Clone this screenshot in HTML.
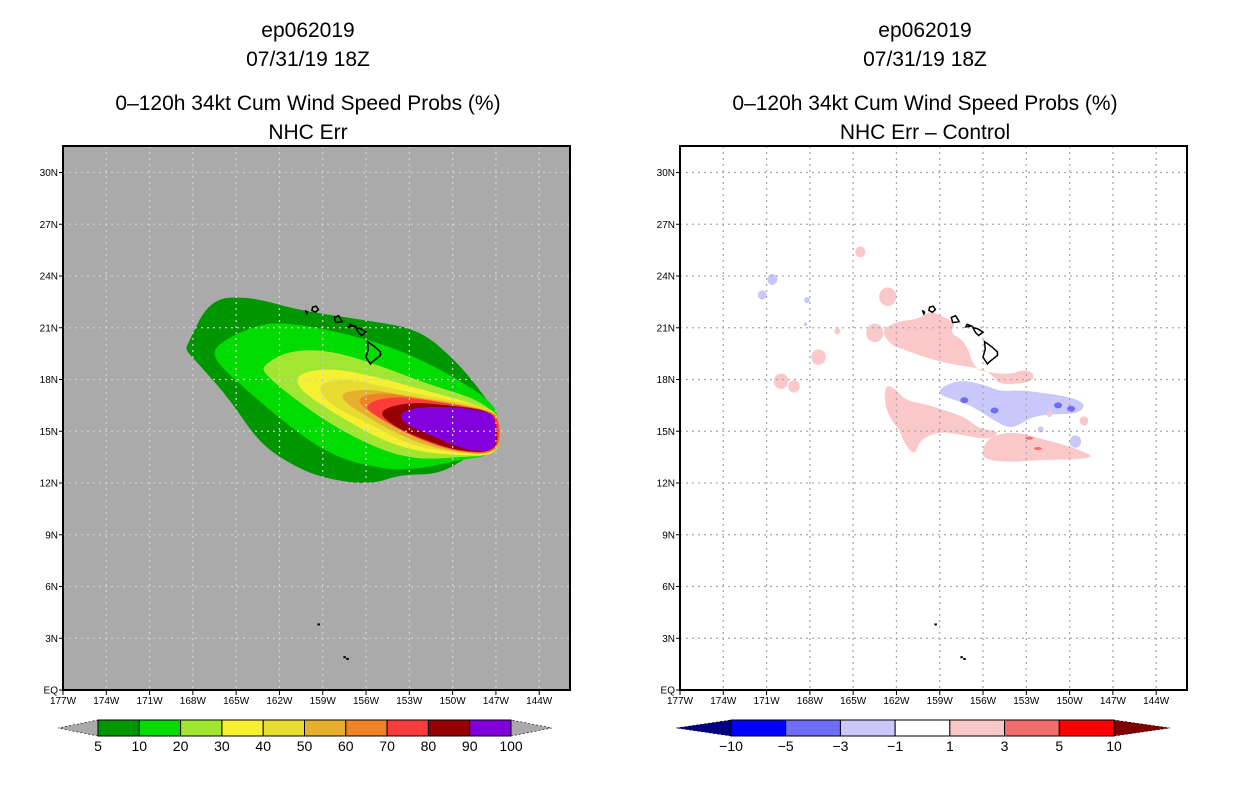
<!DOCTYPE html>
<html><head><meta charset="utf-8"><style>
body{margin:0;background:#fff;}
svg text{font-family:"Liberation Sans",sans-serif;}
</style></head><body>
<svg id="s" width="1236" height="800" xmlns="http://www.w3.org/2000/svg"></svg>
<script>
// ---- data (lon in degrees W, lat in degrees N) ----
const lonTicks=[177,174,171,168,165,162,159,156,153,150,147,144];
const latTicks=[0,3,6,9,12,15,18,21,24,27,30];
const probLevels=['5','10','20','30','40','50','60','70','80','90','100'];
const probColors=['#009600','#00dc00','#a0e632','#f5f032','#e6dc32','#e6af2d','#f08228','#fa3c3c','#960000','#8200dc'];
const diffLevels=['-10','-5','-3','-1','1','3','5','10'];
const diffColors=['#0000ff','#6e6ef5','#c8c8fa','#ffffff','#fac8c8','#f06e6e','#ff0000'];
const prob5=[[168.4,20.0],[166.8,22.7],[164.0,22.8],[160.6,22.0],[155.7,21.4],[152.3,20.9],[149.8,19.1],[148.1,17.4],[146.7,15.7],[147.4,13.9],[148.8,13.6],[150.9,12.5],[153.6,12.5],[155.7,11.9],[158.5,12.2],[160.6,12.8],[163.3,14.2],[165.4,16.8],[167.5,18.8],[168.5,19.7]];
const prob10=[[166.5,20.0],[163.3,21.3],[160.6,21.2],[157.1,20.6],[153.6,19.7],[150.2,18.3],[147.4,16.8],[146.7,15.7],[147.1,13.6],[149.5,13.35],[152.3,12.8],[155.0,12.8],[158.5,13.6],[161.96,15.7],[164.7,17.7],[166.5,19.1]];
const prob20=[[163.2,18.8],[161.3,19.7],[158.5,19.7],[155.0,18.8],[151.6,17.7],[148.1,16.8],[146.7,15.7],[147.1,13.6],[149.5,13.5],[152.3,13.35],[155.0,13.9],[158.5,15.4],[161.3,17.1],[163.0,18.3]];
const prob30=[[160.9,18.3],[158.5,18.7],[155.0,18.1],[151.6,17.3],[148.1,16.5],[146.7,15.7],[146.7,13.6],[149.5,13.6],[152.3,13.8],[155.0,14.5],[158.5,16.2],[160.6,17.4]];
const prob40=[[159.5,17.7],[157.5,18.1],[154.3,17.5],[150.9,16.9],[147.4,16.4],[146.7,15.7],[146.7,13.6],[150.2,13.76],[153.0,14.2],[155.7,15.4],[158.5,16.5]];
const prob50=[[158.2,17.1],[156.1,17.5],[153.6,17.1],[150.2,16.7],[147.4,16.2],[146.7,15.7],[146.7,13.6],[150.2,13.8],[153.0,14.5],[155.7,15.7]];
const prob60=[[157.1,16.8],[155.0,17.3],[152.3,16.9],[149.5,16.5],[147.4,16.2],[146.7,15.7],[146.7,13.6],[150.2,13.9],[153.6,15.1]];
const prob70=[[156.3,16.5],[154.3,17.05],[151.6,16.8],[147.4,16.2],[146.7,15.5],[146.9,13.76],[149.5,13.76],[152.3,14.5],[155.0,15.7]];
const prob80=[[155.2,16.2],[153.0,16.7],[150.2,16.5],[147.4,16.2],[146.9,15.4],[146.9,13.8],[149.5,13.8],[152.3,14.6],[154.3,15.4]];
const prob90=[[153.8,16.1],[151.6,16.5],[147.3,16.2],[147.0,15.4],[147.0,13.8],[149.1,13.9],[151.6,14.8],[153.3,15.4]];
const diffPinkN=[[163.1,20.9],[161.8,21.4],[160.4,21.5],[159.7,22.0],[158.4,21.5],[157.9,21.2],[158.3,20.7],[157.2,20.2],[156.6,18.6],[155.5,18.4],[154.1,18.3],[153.1,18.6],[152.4,18.3],[152.7,17.8],[154.8,17.7],[155.2,18.1],[155.9,18.6],[157.6,18.8],[159.3,19.1],[160.4,19.4],[161.4,19.7],[162.4,20.0]];
const diffBlue=[[159.0,17.5],[157.6,18.0],[155.9,17.7],[154.8,17.3],[153.4,17.4],[151.7,17.2],[150.7,17.1],[149.3,16.8],[148.9,16.4],[149.6,16.0],[151.4,16.0],[152.7,15.8],[153.4,15.4],[154.1,15.2],[154.8,15.4],[155.9,16.0],[156.9,16.5],[157.9,16.8],[159.0,17.1]];
const diffPinkS=[[162.8,17.7],[162.1,17.5],[161.4,16.8],[159.7,16.5],[158.6,16.2],[157.2,15.8],[156.2,15.1],[154.8,15.0],[155.5,14.5],[157.6,14.8],[159.0,15.0],[160.4,14.5],[160.7,13.6],[161.4,14.2],[161.8,15.1],[162.4,15.7],[162.8,16.5]];
const diffPinkSE=[[155.5,14.7],[153.8,15.0],[151.7,14.5],[150.3,14.2],[149.3,13.9],[148.2,13.5],[149.9,13.35],[152.0,13.35],[154.1,13.2],[155.9,13.35],[156.1,13.9]];
const blobsPink=[[170.0,17.9,0.5],[169.1,17.6,0.4],[167.4,19.3,0.5],[163.5,20.7,0.6],[162.6,22.8,0.6],[164.5,25.4,0.35],[166.1,20.8,0.2],[149.0,15.6,0.3],[151.4,16.0,0.2]];
const blobsBlue=[[170.6,23.8,0.35],[171.3,22.9,0.3],[168.2,22.6,0.2],[168.3,21.2,0.12],[149.6,14.4,0.4],[152.0,15.1,0.2]];
const islands=[
 [[155.9,20.2],[155.4,19.9],[155.0,19.6],[155.0,19.4],[155.6,19.0],[155.7,18.9],[156.0,19.3],[155.85,19.75]],
 [[156.7,21.0],[156.4,20.95],[156.0,20.75],[156.3,20.55],[156.5,20.7]],
 [[157.1,21.2],[156.8,21.1],[157.2,21.05]],
 [[158.2,21.6],[157.9,21.7],[157.65,21.35],[158.1,21.3]],
 [[159.7,22.2],[159.45,22.25],[159.3,22.05],[159.5,21.9],[159.75,22.0]],
 [[160.2,22.0],[160.05,21.9],[160.1,21.8]]
];
const atolls=[[159.3,3.8],[157.5,1.9],[157.3,1.8]];

// ---- drawing ----
const NS='http://www.w3.org/2000/svg';
const svg=document.getElementById('s');
function mk(t,a,p){const e=document.createElementNS(NS,t);for(const k in a)e.setAttribute(k,a[k]);(p||svg).appendChild(e);return e;}
function txt(x,y,s,size,anchor,p){const e=mk('text',{x:x,y:y,'font-size':size,'text-anchor':anchor||'middle',fill:'#000'},p);e.textContent=s;return e;}
const PX=14.43, PY=17.25, EQY=690;
function smoothPath(P){
  const n=P.length;let d='';
  for(let i=0;i<n;i++){const a=P[i],b=P[(i+1)%n];const m=[(a[0]+b[0])/2,(a[1]+b[1])/2];
    d+=(i===0?'M'+m[0].toFixed(1)+','+m[1].toFixed(1):'');
  }
  d='';
  for(let i=0;i<n;i++){const a=P[i],b=P[(i+1)%n],c=P[(i+2)%n];
    const m1=[(a[0]+b[0])/2,(a[1]+b[1])/2],m2=[(b[0]+c[0])/2,(b[1]+c[1])/2];
    if(i===0)d+='M'+m1[0].toFixed(1)+','+m1[1].toFixed(1);
    d+=' Q'+b[0].toFixed(1)+','+b[1].toFixed(1)+' '+m2[0].toFixed(1)+','+m2[1].toFixed(1);
  }
  return d+'Z';
}
function panel(x0,bg,grid,name,titleLines,drawContents){
  const g=mk('g',{});
  
  
  const X=lon=>x0+(177-lon)*PX, Y=lat=>EQY-lat*PY;
  const cx=x0+245;
  titleLines.forEach((s,i)=>{const t=txt(cx,[37,66,110,139][i],s,21,'middle',g);});
  const clip='c'+name; const cp=mk('clipPath',{id:clip},g); mk('rect',{x:x0,y:146,width:507,height:544},cp);
  mk('rect',{x:x0,y:146,width:507,height:544,fill:bg},g);
  const inner=mk('g',{'clip-path':'url(#'+clip+')'},g);
  const pts=arr=>arr.map(p=>X(p[0]).toFixed(1)+','+Y(p[1]).toFixed(1)).join(' ');
  const spath=arr=>smoothPath(arr.map(p=>[X(p[0]),Y(p[1])]));
  drawContents(inner,X,Y,spath);
  lonTicks.forEach(l=>{const l1=mk('line',{x1:X(l),x2:X(l),y1:146,y2:690,stroke:grid,'stroke-dasharray':'2,4','stroke-width':1.3},inner);});
  latTicks.forEach(l=>{const l1=mk('line',{y1:Y(l),y2:Y(l),x1:x0,x2:x0+507,stroke:grid,'stroke-dasharray':'2,4','stroke-width':1.3},inner);});
  islands.forEach(is=>{const p=mk('polygon',{points:pts(is),fill:'none',stroke:'#000','stroke-width':1.5},inner);});
  atolls.forEach(a=>{mk('rect',{x:X(a[0])-1,y:Y(a[1])-1,width:2.5,height:2,fill:'#000'},inner);});
  const fr=mk('rect',{x:x0,y:146,width:507,height:544,fill:'none',stroke:'#000','stroke-width':2},g);
  
  lonTicks.forEach(l=>{mk('line',{x1:X(l),x2:X(l),y1:690,y2:695,stroke:'#000'},g);const t=txt(X(l),704,l+'W',10,'middle',g);});
  latTicks.forEach(l=>{mk('line',{x1:x0-4,x2:x0,y1:Y(l),y2:Y(l),stroke:'#000'},g);const t=txt(x0-5,Y(l)+3.5,l===0?'EQ':l+'N',10,'end',g);});
}
panel(63,'#aaaaaa','#cfcfcf','left-panel',['ep062019','07/31/19 18Z','0\u2013120h 34kt Cum Wind Speed Probs (%)','NHC Err'],(g,X,Y,sp)=>{
  [prob5,prob10,prob20,prob30,prob40,prob50,prob60,prob70,prob80,prob90].forEach((p,i)=>{
    const e=mk('path',{d:sp(p),fill:probColors[i]},g);
    
    
  });
});
panel(680,'#ffffff','#aaaaaa','right-panel',['ep062019','07/31/19 18Z','0\u2013120h 34kt Cum Wind Speed Probs (%)','NHC Err \u2013 Control'],(g,X,Y,sp)=>{
  [[diffPinkN,'#fac8c8'],[diffPinkS,'#fac8c8'],[diffPinkSE,'#fac8c8'],[diffBlue,'#c8c8fa']].forEach(([p,c],i)=>{
    const e=mk('path',{d:sp(p),fill:c},g);
    
    
  });
  blobsPink.forEach(b=>{const e=mk('ellipse',{cx:X(b[0]),cy:Y(b[1]),rx:b[2]*PX,ry:b[2]*PY*0.9,fill:'#fac8c8'},g);});
  blobsBlue.forEach(b=>{const e=mk('ellipse',{cx:X(b[0]),cy:Y(b[1]),rx:b[2]*PX,ry:b[2]*PY*0.9,fill:'#c8c8fa'},g);});
  [[157.3,16.8],[155.2,16.2],[150.8,16.5],[149.9,16.3]].forEach(b=>{mk('ellipse',{cx:X(b[0]),cy:Y(b[1]),rx:4,ry:3,fill:'#6e6ef5'},g);});
  [[152.2,14.0],[152.8,14.6]].forEach(b=>{mk('ellipse',{cx:X(b[0]),cy:Y(b[1]),rx:4,ry:1.5,fill:'#f06e6e'},g);});
});
// colorbars
function colorbar(x0,x1,lt,rt,colors,labels,endColL,endColR,name){
  const g=mk('g',{});
  
  
  const y0=720,y1=736,w=(x1-x0)/colors.length;
  mk('polygon',{points:`${x0},${y0} ${x0},${y1} ${lt},${(y0+y1)/2}`,fill:endColL,stroke:'#000','stroke-width':0.6,'stroke-dasharray':'2,2'},g);
  mk('polygon',{points:`${x1},${y0} ${x1},${y1} ${rt},${(y0+y1)/2}`,fill:endColR,stroke:'#000','stroke-width':0.6,'stroke-dasharray':'2,2'},g);
  colors.forEach((c,i)=>{const r=mk('rect',{x:x0+i*w,y:y0,width:w,height:y1-y0,fill:c,stroke:'#000','stroke-width':1},g);});
  labels.forEach((l,i)=>{const t=txt(x0+i*w,751,l.replace('-','\u2212'),14,'middle',g);});
}
colorbar(98,511,58,552,probColors,probLevels,'#aaaaaa','#aaaaaa','prob-colorbar');
colorbar(731,1114,676,1170,diffColors,diffLevels,'#000080','#800000','diff-colorbar');
</script>
</body></html>
